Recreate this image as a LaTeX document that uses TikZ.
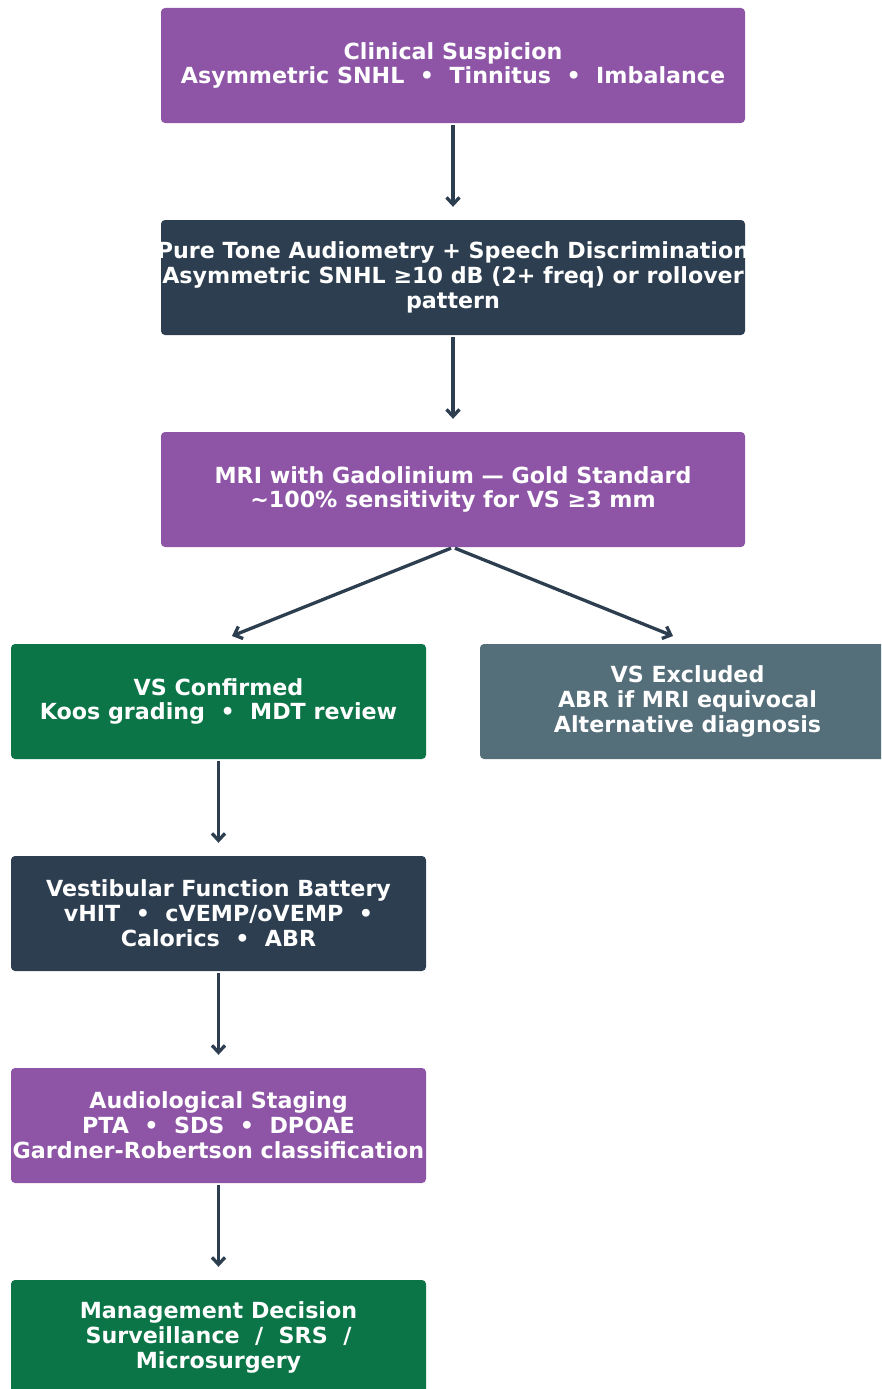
\documentclass[tikz,border=0pt]{standalone}
\usepackage{fontspec}
\setmainfont{DejaVu Sans}
\usetikzlibrary{arrows.meta}
\definecolor{cpurple}{HTML}{8E55A7}
\definecolor{cdark}{HTML}{2C3E50}
\definecolor{cgreen}{HTML}{0B7547}
\definecolor{cgrey}{HTML}{546E7A}
\tikzset{
  box/.style={rounded corners=4pt, minimum height=115pt, inner xsep=-20pt, inner ysep=0pt, align=center,
    text=white, font=\fontsize{22.2}{24.8}\selectfont\bfseries},
  widebox/.style={box, minimum width=584pt},
  narrowbox/.style={box, minimum width=415pt},
  arr/.style={draw=cdark, line width=3.3pt, -{Straight Barb[length=7pt,width=13pt]}},
}
\newcommand{\sep}{\ \ •\ \ }
\begin{document}
\begin{tikzpicture}[x=1pt,y=-1pt]
\useasboundingbox (0,0) rectangle (881,1389);
\clip (0,0) rectangle (881,1389);
\node[widebox, fill=cpurple] (a) at (453,65.5) {Clinical Suspicion\\Asymmetric SNHL\sep Tinnitus\sep Imbalance};
\node[widebox, fill=cdark] (b) at (453,277.5) {Pure Tone Audiometry + Speech Discrimination\\Asymmetric SNHL ≥10 dB (2+ freq) or rollover\\pattern};
\node[widebox, fill=cpurple] (c) at (453,489.5) {MRI with Gadolinium — Gold Standard\\\textasciitilde100\% sensitivity for VS ≥3 mm};
\node[narrowbox, fill=cgreen] (d) at (218.5,701.5) {VS Confirmed\\Koos grading\sep MDT review};
\node[narrowbox, fill=cgrey] (e) at (687.5,701.5) {VS Excluded\\ABR if MRI equivocal\\Alternative diagnosis};
\node[narrowbox, fill=cdark] (f) at (218.5,913.5) {Vestibular Function Battery\\vHIT\sep cVEMP/oVEMP\sep\\Calorics\sep ABR};
\node[narrowbox, fill=cpurple] (g) at (218.5,1125.5) {Audiological Staging\\PTA\sep SDS\sep DPOAE\\Gardner-Robertson classification};
\node[narrowbox, fill=cgreen] (h) at (218.5,1337.5) {Management Decision\\Surveillance\ \ /\ \ SRS\ \ /\\Microsurgery};
\coordinate (cb1) at ([xshift=-2pt,yshift=-1pt]c.south);
\coordinate (cb2) at ([xshift=2pt,yshift=-1pt]c.south);
\coordinate (dt) at (232,636);
\coordinate (et) at (673,636);
\draw[arr] ([yshift=-2pt]a.south) -- ([yshift=13pt]b.north);
\draw[arr] ([yshift=-2pt]b.south) -- ([yshift=13pt]c.north);
\draw[arr] (cb1) -- (dt);
\draw[arr] (cb2) -- (et);
\draw[arr] ([yshift=-2pt]d.south) -- ([yshift=13pt]f.north);
\draw[arr] ([yshift=-2pt]f.south) -- ([yshift=13pt]g.north);
\draw[arr] ([yshift=-2pt]g.south) -- ([yshift=13pt]h.north);
\end{tikzpicture}
\end{document}
